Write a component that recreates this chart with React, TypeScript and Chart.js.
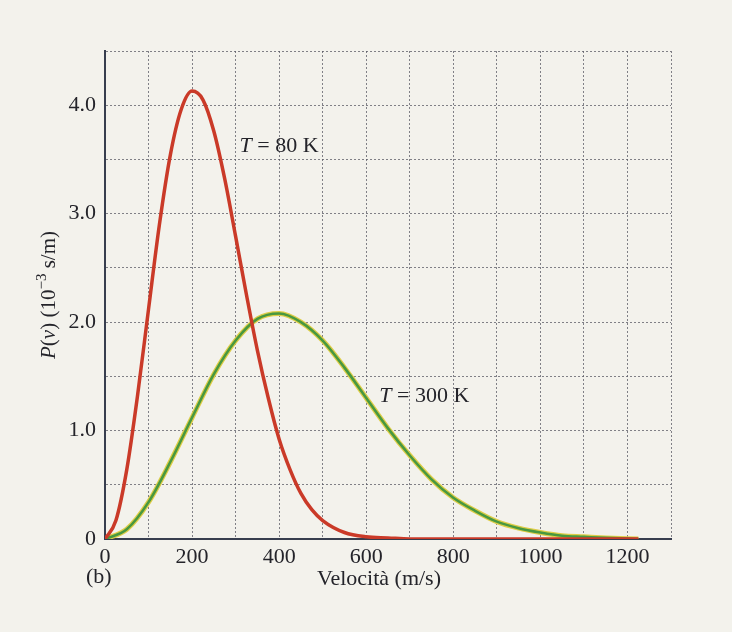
import { useEffect, useRef } from 'react';
import { Chart, registerables } from 'chart.js';

Chart.register(...registerables);

// Speeds (m/s) and probability density P(v) (10^-3 s/m)
const redSpeeds = [0, 25, 50, 75, 100, 125, 150, 175, 200, 225, 250, 275, 300, 325, 350, 375, 400, 425, 450, 475, 500, 550, 600, 650, 700, 800, 900, 1000, 1100, 1225];
const redValues = [0, 0.17, 0.64, 1.33, 2.12, 2.9, 3.54, 3.96, 4.13, 4.05, 3.76, 3.32, 2.79, 2.25, 1.74, 1.3, 0.92, 0.64, 0.42, 0.27, 0.17, 0.06, 0.02, 0.01, 0, 0, 0, 0, 0, 0];

const greenSpeeds = [0, 50, 100, 150, 200, 250, 300, 350, 400, 450, 500, 550, 600, 650, 700, 750, 800, 850, 900, 950, 1000, 1050, 1100, 1150, 1225];
const greenValues = [0, 0.09, 0.34, 0.71, 1.12, 1.52, 1.83, 2.03, 2.08, 2.0, 1.83, 1.58, 1.3, 1.02, 0.77, 0.55, 0.38, 0.26, 0.16, 0.1, 0.06, 0.03, 0.02, 0.01, 0];

const curveLabels = ['80 K', '300 K'];
const labelAnchorsV = [309, 630];
const labelAnchorsP = [3.62, 1.32];

const xTitle = 'Velocità (m/s)';
const figureTag = '(b)';

const SERIF = '"Liberation Serif", "DejaVu Serif", serif';
const INK = 'rgb(36,36,42)';

function toPoints(xs: number[], ys: number[]) {
  return xs.map((x, i) => ({ x, y: ys[i] }));
}

const textPlugin = {
  id: 'textPlugin',
  beforeDraw(chart: any) {
    const ctx = chart.ctx;
    ctx.save();
    ctx.fillStyle = 'rgb(243,242,236)';
    ctx.fillRect(0, 0, chart.width, chart.height);
    ctx.restore();
  },
  afterDraw(chart: any) {
    const ctx = chart.ctx;
    const { chartArea, scales } = chart;
    ctx.save();
    ctx.fillStyle = INK;
    ctx.textBaseline = 'middle';

    // x title
    ctx.font = `22px ${SERIF}`;
    ctx.textAlign = 'center';
    ctx.fillText(xTitle, (chartArea.left + chartArea.right) / 2 - 9, 579);

    // figure tag
    ctx.textAlign = 'left';
    ctx.fillText(figureTag, 86, 577);

    // y title with italic parts, rotated
    const parts: { t: string; f: string; dy?: number }[] = [
      { t: 'P', f: `italic 21px ${SERIF}` },
      { t: '(', f: `21px ${SERIF}` },
      { t: 'v', f: `italic 21px ${SERIF}` },
      { t: ') (10', f: `21px ${SERIF}` },
      { t: '−3', f: `15px ${SERIF}`, dy: -7 },
      { t: ' s/m)', f: `21px ${SERIF}` },
    ];
    let total = 0;
    for (const p of parts) {
      ctx.font = p.f;
      total += ctx.measureText(p.t).width;
    }
    ctx.save();
    ctx.translate(49, (chartArea.top + chartArea.bottom) / 2);
    ctx.rotate(-Math.PI / 2);
    let x = -total / 2;
    ctx.textAlign = 'left';
    for (const p of parts) {
      ctx.font = p.f;
      ctx.fillText(p.t, x, p.dy || 0);
      x += ctx.measureText(p.t).width;
    }
    ctx.restore();

    // curve labels
    for (let i = 0; i < curveLabels.length; i++) {
      const px = scales.x.getPixelForValue(labelAnchorsV[i]);
      const py = scales.y.getPixelForValue(labelAnchorsP[i]);
      ctx.font = `italic 22px ${SERIF}`;
      ctx.fillText('T', px, py);
      const w = ctx.measureText('T').width;
      ctx.font = `22px ${SERIF}`;
      ctx.fillText(' = ' + curveLabels[i], px + w, py);
    }
    ctx.restore();
  },
};

export default function App() {
  const ref = useRef<HTMLCanvasElement | null>(null);

  useEffect(() => {
    if (!ref.current) return;
    const gridStyle = {
      color: 'rgba(90,90,100,0.75)',
      lineWidth: 1,
      drawTicks: false,
    };
    const chart = new Chart(ref.current, {
      type: 'line',
      data: {
        datasets: [
          {
            label: 'T = 80 K',
            data: toPoints(redSpeeds, redValues),
            borderColor: 'rgb(202,58,40)',
            borderWidth: 3.5,
            pointRadius: 0,
            cubicInterpolationMode: 'monotone',
            order: 0,
          },
          {
            label: 'T = 300 K',
            data: toPoints(greenSpeeds, greenValues),
            borderColor: 'rgb(72,152,64)',
            borderWidth: 2.6,
            pointRadius: 0,
            cubicInterpolationMode: 'monotone',
            order: 1,
          },
          {
            label: 'T = 300 K edge',
            data: toPoints(greenSpeeds, greenValues),
            borderColor: 'rgb(222,205,70)',
            borderWidth: 5,
            pointRadius: 0,
            cubicInterpolationMode: 'monotone',
            order: 2,
          },
        ],
      },
      options: {
        animation: false,
        responsive: false,
        maintainAspectRatio: false,
        layout: { padding: { top: 51, right: 61, left: 0, bottom: 0 } },
        plugins: {
          legend: { display: false },
          tooltip: { enabled: false },
          title: { display: false },
        },
        scales: {
          x: {
            type: 'linear',
            min: 0,
            max: 1300,
            afterFit: (s: any) => {
              s.height = 93;
            },
            grid: { ...gridStyle },
            border: { display: true, color: 'rgb(55,62,78)', width: 2, dash: [2, 2] },
            ticks: {
              stepSize: 100,
              autoSkip: false,
              maxRotation: 0,
              padding: 5,
              color: INK,
              font: { family: SERIF, size: 22 },
              callback: (v: any) => (Number(v) % 200 === 0 ? String(v) : ''),
            },
          },
          y: {
            type: 'linear',
            min: 0,
            max: 4.5,
            afterFit: (s: any) => {
              s.width = 105;
            },
            grid: { ...gridStyle },
            border: { display: true, color: 'rgb(55,62,78)', width: 2, dash: [2, 2] },
            ticks: {
              stepSize: 0.5,
              autoSkip: false,
              padding: 9,
              color: INK,
              font: { family: SERIF, size: 22 },
              callback: (v: any) => {
                const n = Number(v);
                if (n % 1 !== 0) return '';
                return n === 0 ? '0' : n.toFixed(1);
              },
            },
          },
        },
      } as any,
      plugins: [textPlugin],
    });
    return () => chart.destroy();
  }, []);

  return (
    <div style={{ position: 'fixed', left: 0, top: 0, width: 732, height: 632 }}>
      <canvas ref={ref} width={732} height={632} style={{ width: 732, height: 632 }} />
    </div>
  );
}
